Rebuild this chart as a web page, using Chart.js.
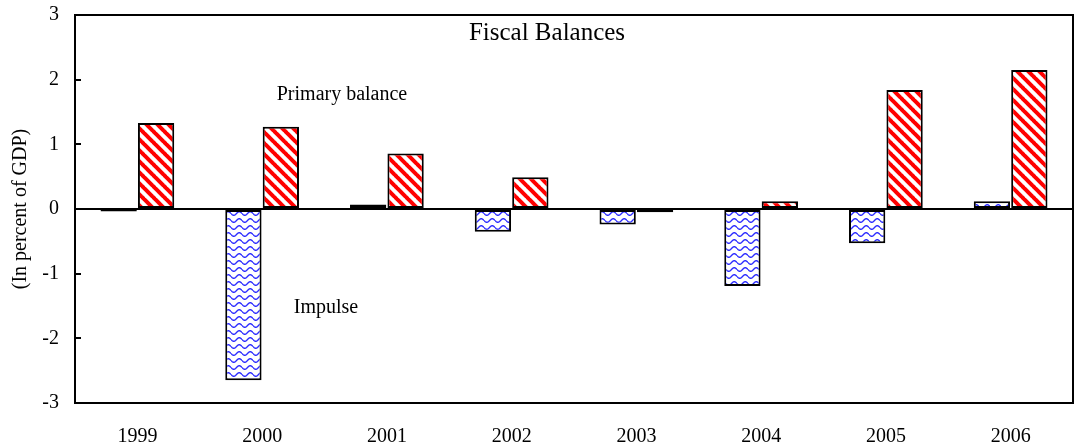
<!DOCTYPE html>
<html>
<head>
<meta charset="utf-8">
<script src="https://cdn.jsdelivr.net/npm/chart.js@4.4.1/dist/chart.umd.min.js"></script>
<style>
  html, body { margin: 0; padding: 0; background: #fff; }
  #wrap { width: 1074px; height: 448px; }
</style>
</head>
<body>
<div id="wrap"><canvas id="myChart"></canvas></div>
<script>
// Chart data (in percent of GDP)
const years = ['1999', '2000', '2001', '2002', '2003', '2004', '2005', '2006'];
const impulse = [-0.04, -2.65, 0.07, -0.35, -0.24, -1.19, -0.53, 0.12];
const primaryBalance = [1.33, 1.27, 0.86, 0.49, -0.05, 0.12, 1.84, 2.15];
const yTickValues = [-3, -2, -1, 0, 1, 2, 3];

const serif = '"Liberation Serif", "DejaVu Serif", serif';

// red diagonal stripes
function stripePattern() {
    const c = document.createElement('canvas');
    const s = 11;
    c.width = s; c.height = s;
    const g = c.getContext('2d');
    g.fillStyle = '#fff';
    g.fillRect(0, 0, s, s);
    g.strokeStyle = '#ff0000';
    g.lineWidth = 4;
    for (let k = -1; k <= 1; k++) {
        g.beginPath();
        g.moveTo(k * s - 1, -1);
        g.lineTo(k * s + s + 1, s + 1);
        g.stroke();
    }
    return g.createPattern(c, 'repeat');
}

// blue wavy lines
function wavePattern() {
    const c = document.createElement('canvas');
    const w = 11, h = 7;
    c.width = w; c.height = h;
    const g = c.getContext('2d');
    g.fillStyle = '#fff';
    g.fillRect(0, 0, w, h);
    g.strokeStyle = '#2a2aff';
    g.lineWidth = 1.4;
    g.beginPath();
    for (let x = 0; x <= w; x += 0.5) {
        const y = 3.5 + 1.8 * Math.sin(x / w * Math.PI * 2);
        if (x === 0) g.moveTo(x, y); else g.lineTo(x, y);
    }
    g.stroke();
    return g.createPattern(c, 'repeat');
}

// frame, inside tick marks and the texts on the plot
const decorations = {
    id: 'decorations',
    afterDraw(chart) {
        const ctx = chart.ctx;
        const a = chart.chartArea;
        const y = chart.scales.y;
        ctx.save();
        ctx.strokeStyle = '#000';
        ctx.lineWidth = 2;
        ctx.strokeRect(a.left, a.top, a.right - a.left, a.bottom - a.top);
        yTickValues.forEach(v => {
            const py = Math.round(y.getPixelForValue(v));
            ctx.beginPath();
            ctx.moveTo(a.left, py);
            ctx.lineTo(a.left + 6, py);
            ctx.stroke();
        });
        ctx.fillStyle = '#000';
        ctx.textAlign = 'center';
        ctx.textBaseline = 'middle';
        ctx.font = '25px ' + serif;
        ctx.fillText('Fiscal Balances', a.left + 472, y.getPixelForValue(2.72));
        ctx.font = '20px ' + serif;
        ctx.fillText('Primary balance', a.left + 267, y.getPixelForValue(1.77));
        ctx.fillText('Impulse', a.left + 251, y.getPixelForValue(-1.52));
        ctx.restore();
    }
};

const ctx = document.getElementById('myChart');

const myChart = new Chart(ctx, {
    type: 'bar',
    data: {
        labels: years,
        datasets: [
            {
                label: 'Impulse',
                data: impulse,
                backgroundColor: wavePattern(),
                borderColor: '#000',
                borderWidth: 2,
                borderSkipped: false,
                categoryPercentage: 0.6,
                barPercentage: 0.97
            },
            {
                label: 'Primary balance',
                data: primaryBalance,
                backgroundColor: stripePattern(),
                borderColor: '#000',
                borderWidth: 2,
                borderSkipped: false,
                categoryPercentage: 0.6,
                barPercentage: 0.97
            }
        ]
    },
    options: {
        responsive: true,
        maintainAspectRatio: false,
        animation: false,
        layout: {
            padding: { top: 15, right: 1, left: 0, bottom: 0 }
        },
        scales: {
            x: {
                grid: { display: false, drawTicks: false },
                border: { display: false },
                ticks: {
                    color: '#000',
                    font: { family: serif, size: 20 },
                    padding: 22,
                    maxRotation: 0
                },
                afterFit: scale => { scale.height = 45; }
            },
            y: {
                min: -3,
                max: 3,
                afterBuildTicks: scale => {
                    scale.ticks = yTickValues.map(v => ({ value: v }));
                },
                grid: {
                    drawTicks: false,
                    color: c => c.tick && c.tick.value === 0 ? '#000' : 'rgba(0,0,0,0)',
                    lineWidth: 2
                },
                border: { display: false },
                ticks: {
                    color: '#000',
                    font: { family: serif, size: 20 },
                    padding: 16
                },
                title: {
                    display: true,
                    text: '(In percent of GDP)',
                    color: '#000',
                    font: { family: serif, size: 20 },
                    padding: { top: 9, bottom: 0 }
                },
                afterFit: scale => {
                    scale.width = 75;
                    scale.paddingTop = 0;
                    scale.paddingBottom = 0;
                }
            }
        },
        plugins: {
            legend: { display: false },
            tooltip: { enabled: false },
            title: { display: false }
        }
    },
    plugins: [decorations]
});
</script>
</body>
</html>
